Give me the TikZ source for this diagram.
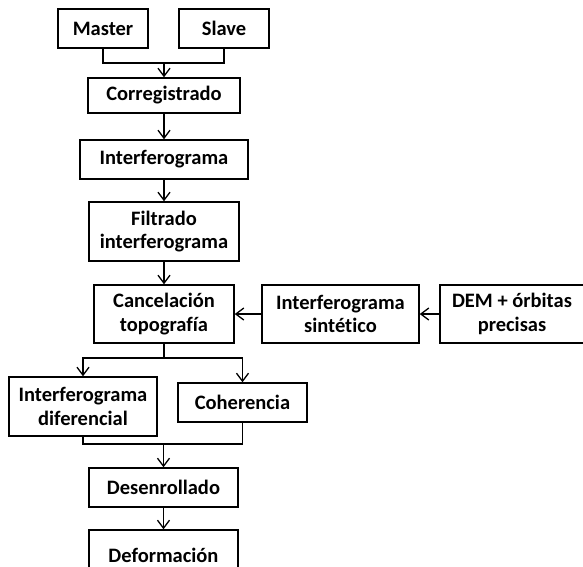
\documentclass[tikz,border=0pt]{standalone}
\usepackage{fontspec}
\setmainfont{Carlito}[Ligatures=NoCommon]
\usetikzlibrary{arrows.meta,calc}
\begin{document}
\begin{tikzpicture}[x=1pt,y=-1pt,
  line width=1.5pt,
  box/.style={draw,line width=1.5pt,inner sep=0pt,align=center,
    font=\fontsize{20.5}{23.5}\selectfont\bfseries},
  arr/.style={-{Straight Barb[length=8pt,width=12pt,line width=1.3pt]}}]
\useasboundingbox (0,0) rectangle (583,566);
\clip (0,0) rectangle (583,566);
\newcommand\bx[6]{\node[box,minimum width=#4-#2,minimum height=#5-#3] (#1) at ({(#2+#4)/2},{(#3+#5)/2}) {#6};}
\bx{master}{58}{9}{148}{48}{Master}
\bx{slave}{179}{9}{269}{48}{Slave}
\bx{corr}{88}{78}{240}{113}{Corregistrado}
\bx{inter}{80}{140}{248}{179}{Interferograma}
\bx{filt}{89}{202}{239}{261}{Filtrado\\interferograma}
\bx{canc}{94}{285}{234}{343}{Cancelación\\topografía}
\bx{sint}{262}{285}{419}{343}{Interferograma\\sintético}
\bx{dem}{440}{285}{584}{343}{DEM + órbitas\\precisas}
\bx{dif}{9}{377}{157}{436}{Interferograma\\diferencial}
\bx{coh}{178}{383}{307}{422}{Coherencia}
\bx{des}{89}{468}{238}{507}{Desenrollado}
\bx{def}{89}{530}{238}{580}{Deformación}
% top merge
\coordinate (j1) at (corr.north |- 0,63);
\draw (master.south) |- (j1) -| (slave.south);
\draw[arr] (j1) -- (corr.north);
\draw[arr] (corr.south) -- (inter.north -| corr.south);
\draw[arr] (inter.south -| corr.south) -- (filt.north -| corr.south);
\draw[arr] (filt.south -| corr.south) -- (canc.north -| corr.south);
\draw[arr] (sint.west) -- (canc.east);
\draw[arr] (dem.west) -- (sint.west -| sint.east);
% split
\coordinate (j2) at (canc.south |- 0,358);
\draw (canc.south) -- (j2);
\draw[arr] (j2) -| (dif.north);
\draw[arr] (j2) -| (coh.north);
% merge
\coordinate (j3) at (des.north |- 0,444);
\draw (dif.south) |- (j3) -| (coh.south);
\draw[arr] (j3) -- (des.north);
\draw[arr] (des.south) -- (def.north);
\end{tikzpicture}
\end{document}
